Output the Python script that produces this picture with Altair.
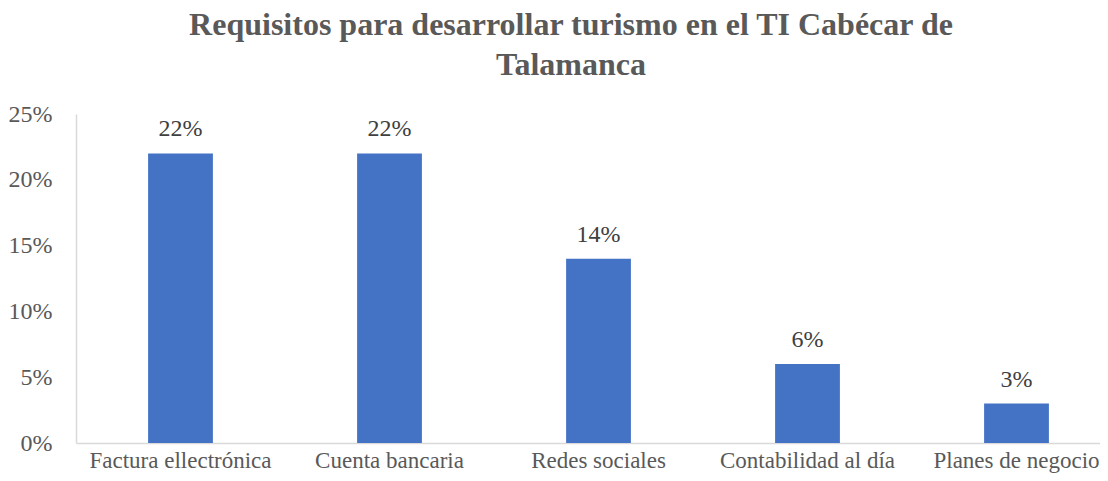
import altair as alt
import pandas as pd

categories = ["Factura ellectrónica", "Cuenta bancaria", "Redes sociales", "Contabilidad al día", "Planes de negocio"]
values = [0.22, 0.22, 0.14, 0.06, 0.03]
labels = ["22%", "22%", "14%", "6%", "3%"]

df = pd.DataFrame({"cat": categories, "val": values, "lab": labels})

FONT = "Liberation Serif"
TXT = "#595959"

base = alt.Chart(df).encode(
    x=alt.X("cat:N", sort=categories, title=None,
            scale=alt.Scale(paddingInner=0.69, paddingOuter=0.345, range=[0, 1045]),
            axis=alt.Axis(labelAngle=0, ticks=False, domainColor="#D9D9D9", domainWidth=1.5,
                          labelFont=FONT, labelFontSize=23, labelColor=TXT, labelPadding=6,
                          labelLimit=0, labelOverlap=False)),
    y=alt.Y("val:Q", title=None,
            scale=alt.Scale(domain=[0, 0.25]),
            axis=alt.Axis(values=[0, 0.05, 0.1, 0.15, 0.2, 0.25], format=".0%", grid=False, ticks=False,
                          domainColor="#D9D9D9", domainWidth=1.5,
                          labelFont=FONT, labelFontSize=24, labelColor=TXT, labelPadding=24)),
)

bars = base.mark_bar(color="#4472C4")
text = base.mark_text(dy=-12, baseline="bottom", font=FONT, fontSize=24, color="#404040").encode(text="lab:N")

chart = (bars + text).properties(
    width=1024, height=329,
    title=alt.TitleParams(
        text=["Requisitos para desarrollar turismo en el TI Cabécar de", "Talamanca"],
        font=FONT, fontSize=32, fontWeight="bold", color=TXT, lineHeight=40,
        anchor="middle", frame="group", dx=-17, offset=20),
    autosize=alt.AutoSizeParams(type="none"),
    padding={"left": 68, "top": 106, "right": 0, "bottom": 30},
).configure_view(stroke=None)

chart.save("out.html", embed_options={"renderer": "svg", "actions": False})
